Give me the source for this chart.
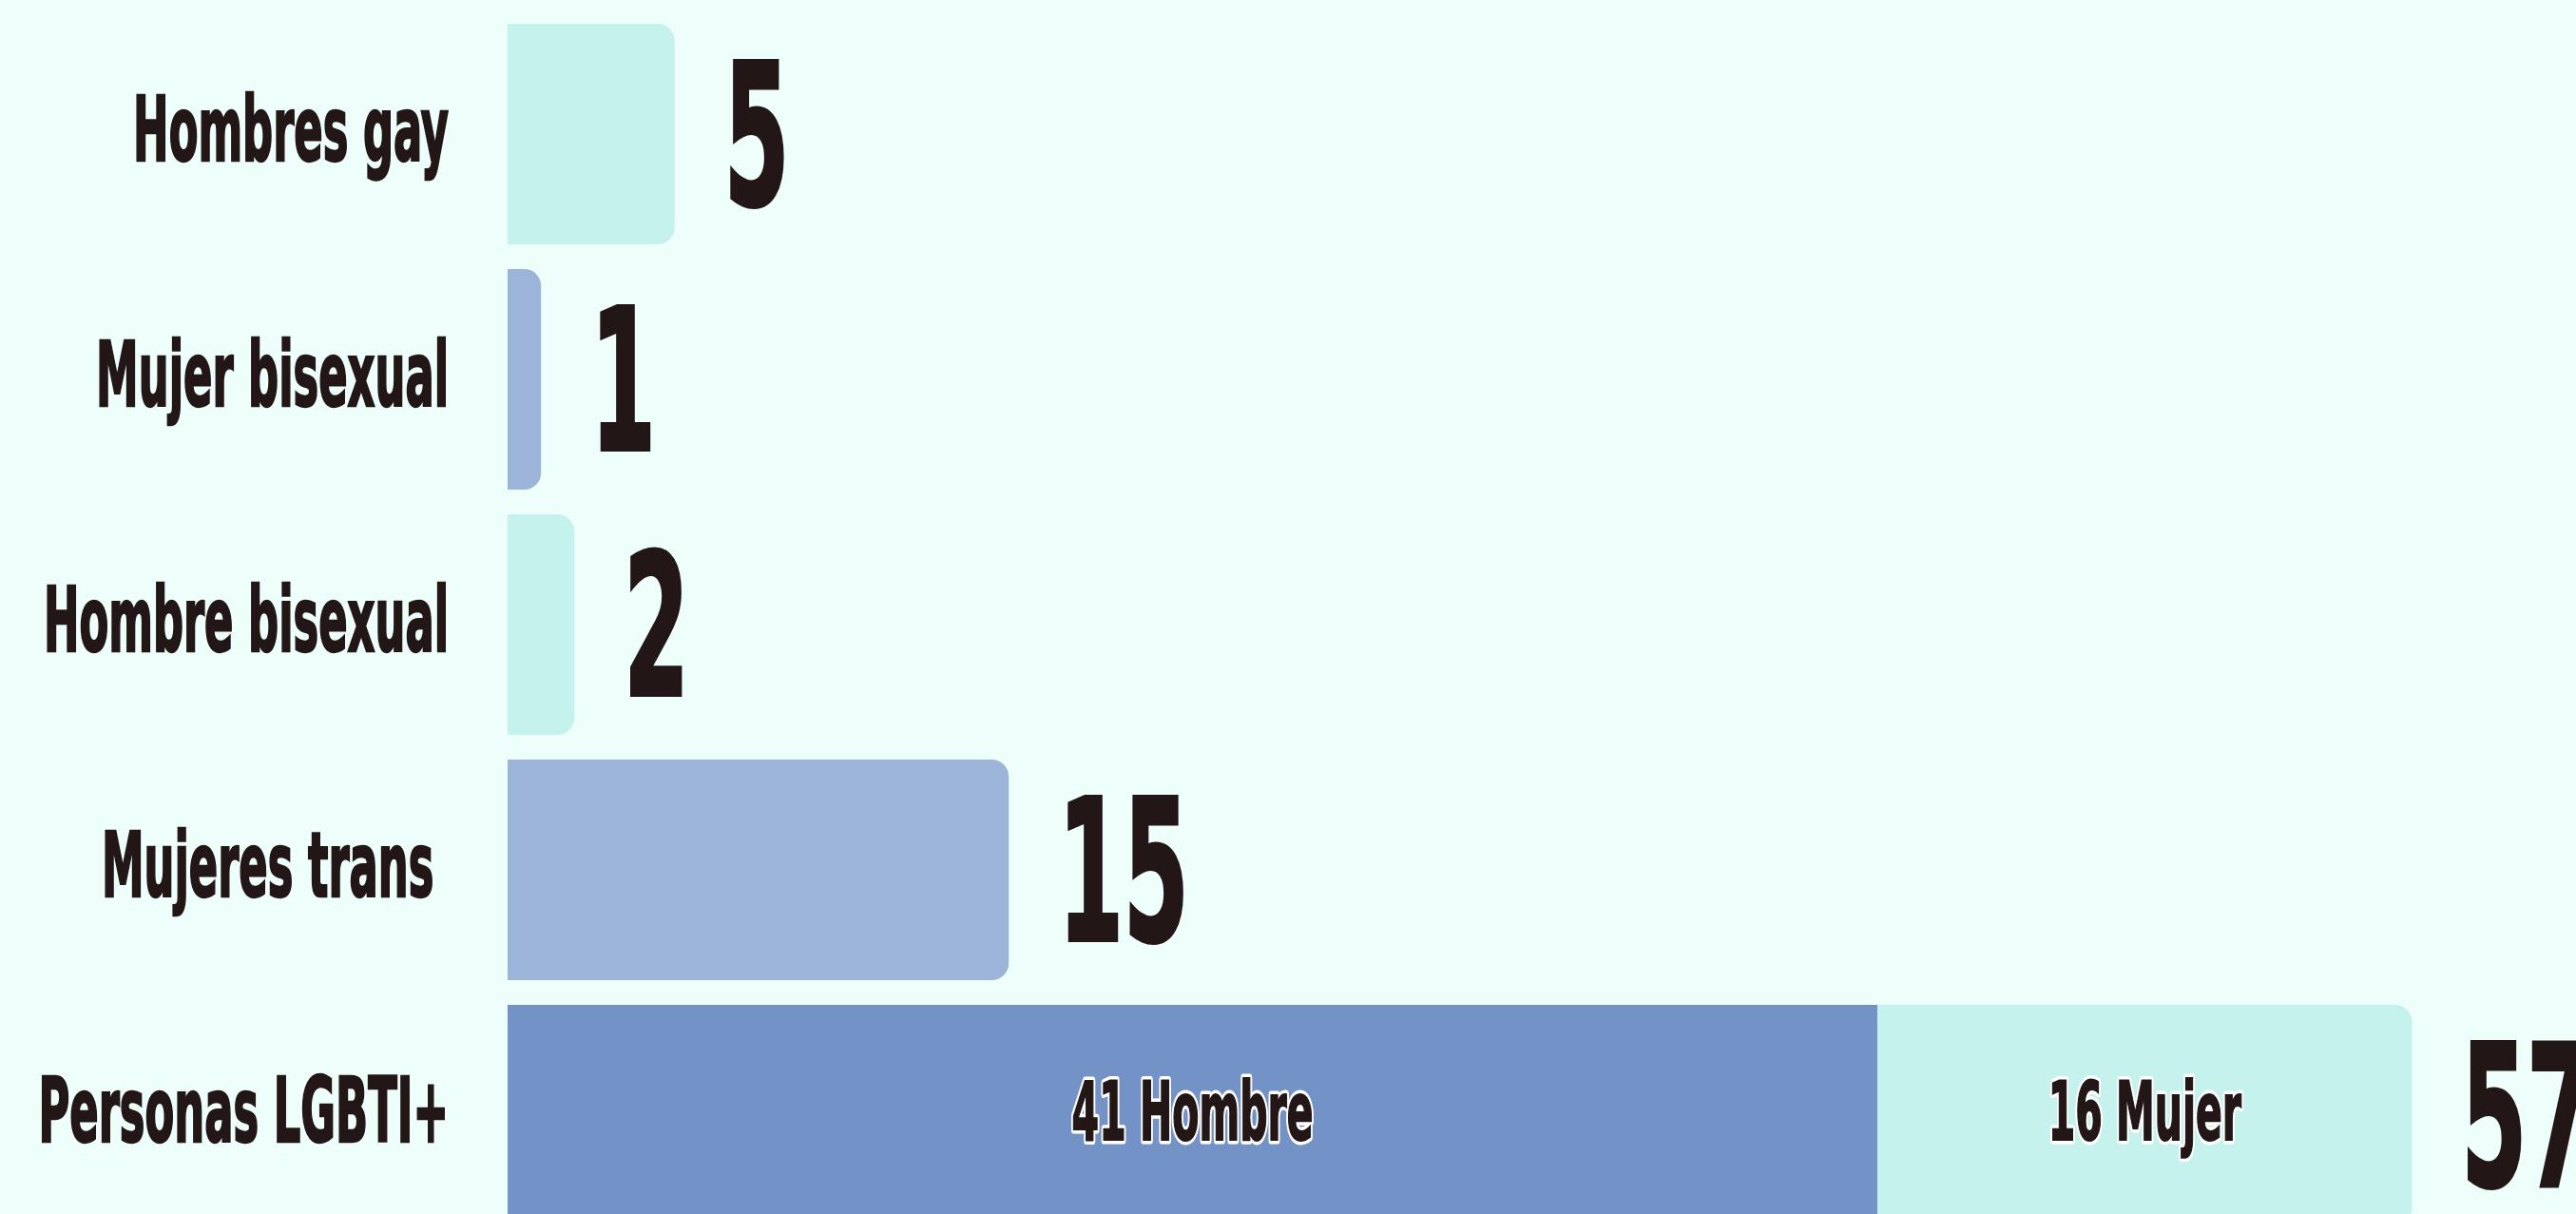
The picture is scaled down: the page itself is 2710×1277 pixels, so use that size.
<!DOCTYPE html>
<html>
<head>
<meta charset="utf-8">
<script src="https://cdn.jsdelivr.net/npm/d3@7"></script>
<style>
  html, body { margin: 0; padding: 0; background: #eefffb; overflow: hidden; }
  svg { display: block; }
  text { font-family: "DejaVu Sans Condensed", "Liberation Sans Narrow", sans-serif; font-weight: bold; fill: #221616; white-space: pre; }
</style>
</head>
<body>
<div id="chart"></div>
<script>
// data
const categories = ["Hombres gay", "Mujer bisexual", "Hombre bisexual", "Mujeres trans ", "Personas LGBTI+"];
const values = [5, 1, 2, 15, 57];
// split of the total bar
const splitLabels = ["Hombre", "Mujer"];
const splitValues = [41, 16];

const width = 2710;
const height = 1277;
const left = 534;
const unit = 35.15;

const teal = "#c6f2ed";
const lightBlue = "#9bb4d8";
const darkBlue = "#7393c7";
const ink = "#221616";
const barColors = [teal, lightBlue, teal, lightBlue];
const splitColors = [darkBlue, teal];

// the original face is a very narrow one, so squeeze the text sideways
const squeeze = 0.53;

const svg = d3
  .select("#chart")
  .append("svg")
  .attr("width", width)
  .attr("height", height);

svg.append("rect").attr("width", width).attr("height", height).attr("fill", "#eefffb");

const x = d3
  .scaleLinear()
  .domain([0, d3.sum(splitValues)])
  .range([left, left + unit * d3.sum(splitValues)]);

const y = d3
  .scaleBand()
  .domain(categories)
  .range([25, 25 + 258 * categories.length - 26])
  .paddingInner(26 / 258)
  .paddingOuter(0);

// bar with rounded right-hand corners
function barPath(x0, y0, w, h, r) {
  r = Math.min(r, w / 2, h / 2);
  return `M${x0},${y0}H${x0 + w - r}A${r},${r} 0 0 1 ${x0 + w},${y0 + r}` +
    `V${y0 + h - r}A${r},${r} 0 0 1 ${x0 + w - r},${y0 + h}H${x0}Z`;
}

const h = y.bandwidth();

// single bars
svg
  .selectAll(".bar")
  .data(categories.slice(0, 4))
  .enter()
  .append("path")
  .attr("class", "bar")
  .attr("d", (d, i) => barPath(x(0), y(d), x(values[i]) - x(0), h, 18))
  .attr("fill", (d, i) => barColors[i]);

// stacked total bar
const total = categories[4];
let acc = 0;
const segs = splitValues.map((v, i) => {
  const s = { label: splitLabels[i], value: v, x0: acc, x1: acc + v, color: splitColors[i] };
  acc += v;
  return s;
});

svg
  .selectAll(".seg")
  .data(segs)
  .enter()
  .append("path")
  .attr("class", "seg")
  .attr("d", (d, i) => {
    const x0 = x(d.x0), w = x(d.x1) - x(d.x0);
    if (i === segs.length - 1) return barPath(x0, y(total), w, h, 18);
    return `M${x0},${y(total)}h${w}v${h}h${-w}Z`;
  })
  .attr("fill", (d) => d.color);

// white halo first, then the dark text on top
const segLabels = svg
  .selectAll(".segLabel")
  .data(segs)
  .enter()
  .append("g")
  .attr("class", "segLabel")
  .attr("transform", (d) => `translate(${(x(d.x0) + x(d.x1)) / 2}, ${y(total) + h / 2 + 26}) scale(${squeeze},1)`);

segLabels
  .append("text")
  .attr("text-anchor", "middle")
  .attr("font-size", 86)
  .attr("stroke", "#ffffff")
  .attr("stroke-width", 9)
  .attr("stroke-linejoin", "round")
  .text((d) => `${d.value} ${d.label}`);

segLabels
  .append("text")
  .attr("text-anchor", "middle")
  .attr("font-size", 86)
  .attr("stroke", ink)
  .attr("stroke-width", 2)
  .text((d) => `${d.value} ${d.label}`);

// category labels
svg
  .selectAll(".cat")
  .data(categories)
  .enter()
  .append("text")
  .attr("class", "cat")
  .attr("transform", (d) => `translate(472, ${y(d) + h / 2 + 28}) scale(${squeeze},1)`)
  .attr("text-anchor", "end")
  .attr("font-size", 94)
  .attr("stroke", ink)
  .attr("stroke-width", 2.5)
  .text((d) => d);

// value labels
svg
  .selectAll(".val")
  .data(categories)
  .enter()
  .append("text")
  .attr("class", "val")
  .attr("transform", (d, i) => `translate(${x(values[i]) + 52}, ${y(d) + h / 2 + 74}) scale(${squeeze},1)`)
  .attr("text-anchor", "start")
  .attr("font-size", 207)
  .attr("stroke", ink)
  .attr("stroke-width", 4)
  .text((d, i) => values[i]);
</script>
</body>
</html>
